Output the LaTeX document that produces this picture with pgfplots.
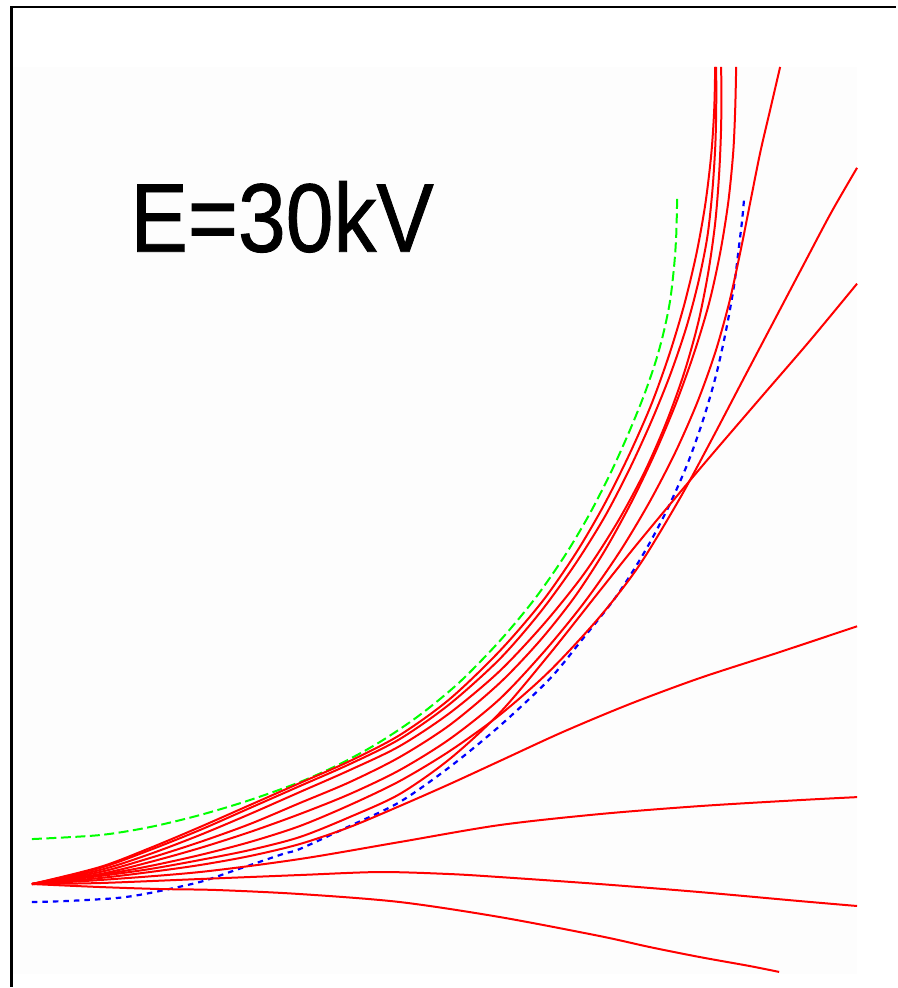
\documentclass[border=0pt]{standalone}
\usepackage{fontspec}
\setmainfont{Liberation Sans}
\newfontfamily\titlefont[FakeBold=0.9]{Liberation Sans}
\usepackage{graphicx}
\usepackage{pgfplots}
\pgfplotsset{compat=1.18}
\definecolor{beamred}{RGB}{255,0,0}
\definecolor{beamgreen}{RGB}{0,255,0}
\definecolor{beamblue}{RGB}{0,0,255}
\tikzset{
  traj/.style={beamred, smooth, line width=0.02cm},
  envA/.style={beamgreen, smooth, line width=0.02cm, dash pattern=on 0.1cm off 0.045cm},
  envB/.style={beamblue, smooth, line width=0.022cm, dash pattern=on 0.055cm off 0.05cm},
}
\begin{document}
\begin{tikzpicture}
\begin{axis}[
  width=8.97cm, height=9.88cm, scale only axis,
  xmin=0, xmax=897, ymin=0, ymax=988, y dir=reverse,
  hide axis, clip=false,
]
% page and plotting area
\fill[white] (axis cs:0,0) rectangle (axis cs:897,988);
\fill[black!0.6] (axis cs:12,67) rectangle (axis cs:858,975);
\draw[black, line width=0.022cm] (axis cs:11.5,988) -- (axis cs:11.5,7) -- (axis cs:897,7);

\node[anchor=base west, inner sep=0pt, font=\titlefont\fontsize{27.8pt}{30pt}\selectfont]
  at (axis cs:130,252) {\scalebox{0.88}[1]{E=30kV}};

% upper envelope
\addplot[envA] coordinates {(32,840)(100,836)(150,828)(200,816)(250,801)(300,783)(340,765)(380,743)(420,716)(460,683)(500,642)(535,600)(565,557)(590,515)(612,472)(630,432)(645,395)(657,360)(665,330)(671,300)(675,265)(677,235)(678,195)};

% lower envelope
\addplot[envB] coordinates {(32,903)(67,902)(117,899)(150,894)(200,883)(233,872)(283,855)(300,850)(350,827)(400,803)(450,768)(500,727)(550,680)(583,640)(617,597)(645,553)(668,510)(688,465)(704,420)(717,375)(727,330)(735,285)(740,245)(743,220)(745,198)};

% trajectories
\addplot[traj] coordinates {(32,885)(100,888)(160,890)(217,891)(300,895)(400,903)(500,918)(600,937)(650,948)(700,958)(750,967)(780,973)};
\addplot[traj] coordinates {(32,885)(100,884)(200,880)(300,876)(380,873)(450,875)(500,878)(600,885)(700,893)(800,902)(858,907)};
\addplot[traj] coordinates {(32,885)(100,881)(200,873)(300,860)(400,843)(500,826)(600,815)(700,807)(800,801)(858,798)};
\addplot[traj] coordinates {(32,885)(100,879)(150,873)(200,866)(250,857)(300,845)(350,828)(400,807)(450,785)(500,762)(563,733)(630,705)(700,679)(780,653)(858,627)};
\addplot[traj] coordinates {(32,885)(100,877)(150,870)(200,861)(250,851)(300,838)(350,818)(400,795)(450,760)(500,714)(550,655)(600,592)(640,542)(700,470)(760,400)(810,342)(858,284)};
\addplot[traj] coordinates {(32,885)(100,876)(150,867)(200,856)(250,843)(300,827)(350,806)(400,782)(450,752)(500,716)(550,672)(600,618)(640,566)(680,500)(712,441)(745,378)(775,321)(805,264)(832,213)(858,168)};
\addplot[traj] coordinates {(32,885)(100,875)(150,863)(200,849)(250,833)(300,815)(350,795)(400,771)(450,740)(500,700)(545,652)(585,603)(620,553)(650,503)(676,453)(698,403)(716,353)(730,303)(741,253)(751,203)(761,153)(771,110)(781,67)};
\addplot[traj] coordinates {(32,885)(100,873)(150,859)(200,843)(250,825)(300,804)(350,783)(400,758)(450,726)(500,684)(540,642)(575,598)(605,552)(632,503)(656,453)(677,403)(695,353)(710,303)(721,253)(729,203)(734,153)(736,110)(737,67)};
\addplot[traj] coordinates {(32,885)(100,871)(150,855)(200,836)(250,815)(300,793)(350,771)(400,747)(450,714)(500,672)(545,624)(585,574)(618,523)(645,473)(667,423)(685,373)(699,323)(709,273)(716,223)(720,173)(722,123)(722,67)};
\addplot[traj] coordinates {(32,885)(100,869)(150,851)(200,831)(250,809)(300,787)(350,765)(400,740)(450,705)(500,660)(540,614)(575,566)(605,518)(630,470)(652,422)(671,375)(687,328)(699,283)(708,238)(713,193)(716,148)(717,110)(717,67)};
\addplot[traj] coordinates {(32,885)(100,868)(150,849)(200,828)(250,806)(300,784)(350,762)(400,736)(450,700)(500,652)(543,602)(577,553)(605,505)(630,455)(652,405)(670,355)(685,305)(697,255)(706,205)(712,155)(715,110)(716,67)};
\end{axis}
\end{tikzpicture}
\end{document}
